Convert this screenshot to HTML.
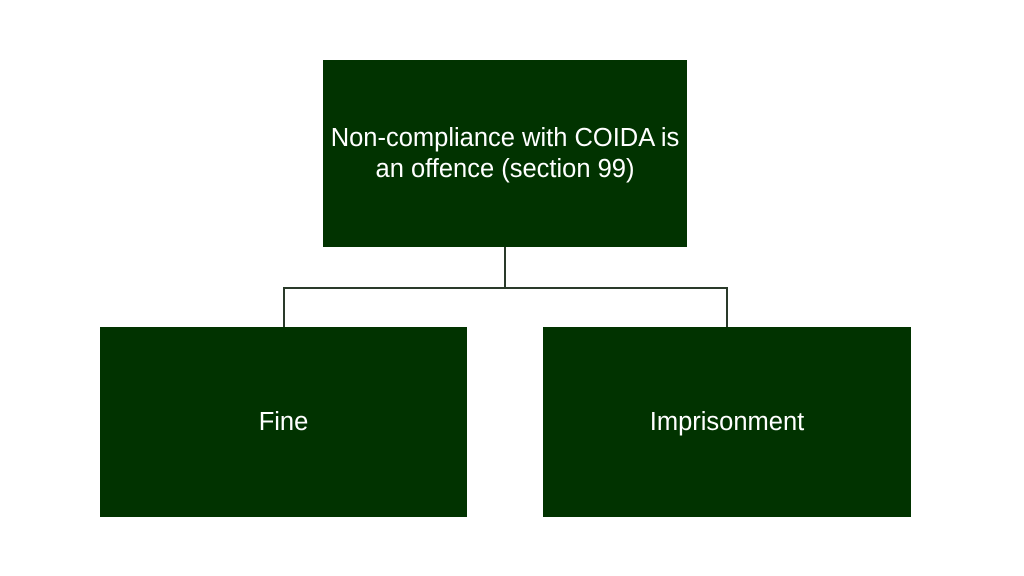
<!DOCTYPE html>
<html><head><style>
body{margin:0;width:1024px;height:576px;background:#fff;position:relative;overflow:hidden;font-family:"Liberation Sans",sans-serif}
.b{position:absolute;background:#013300;color:#fff;display:flex;align-items:center;justify-content:center;text-align:center;font-size:25.5px;line-height:31px}
.l{position:absolute;background:#2a3a2a}
</style></head><body>
<div class="b" style="left:323px;top:60px;width:364px;height:187px">Non-compliance with COIDA is<br>an offence (section 99)</div>
<div class="b" style="left:100px;top:327px;width:367px;height:190px">Fine</div>
<div class="b" style="left:543px;top:327px;width:368px;height:190px">Imprisonment</div>
<div class="l" style="left:504px;top:247px;width:2px;height:41px"></div>
<div class="l" style="left:283px;top:287px;width:445px;height:2px"></div>
<div class="l" style="left:283px;top:287px;width:2px;height:40px"></div>
<div class="l" style="left:726px;top:287px;width:2px;height:40px"></div>
</body></html>
